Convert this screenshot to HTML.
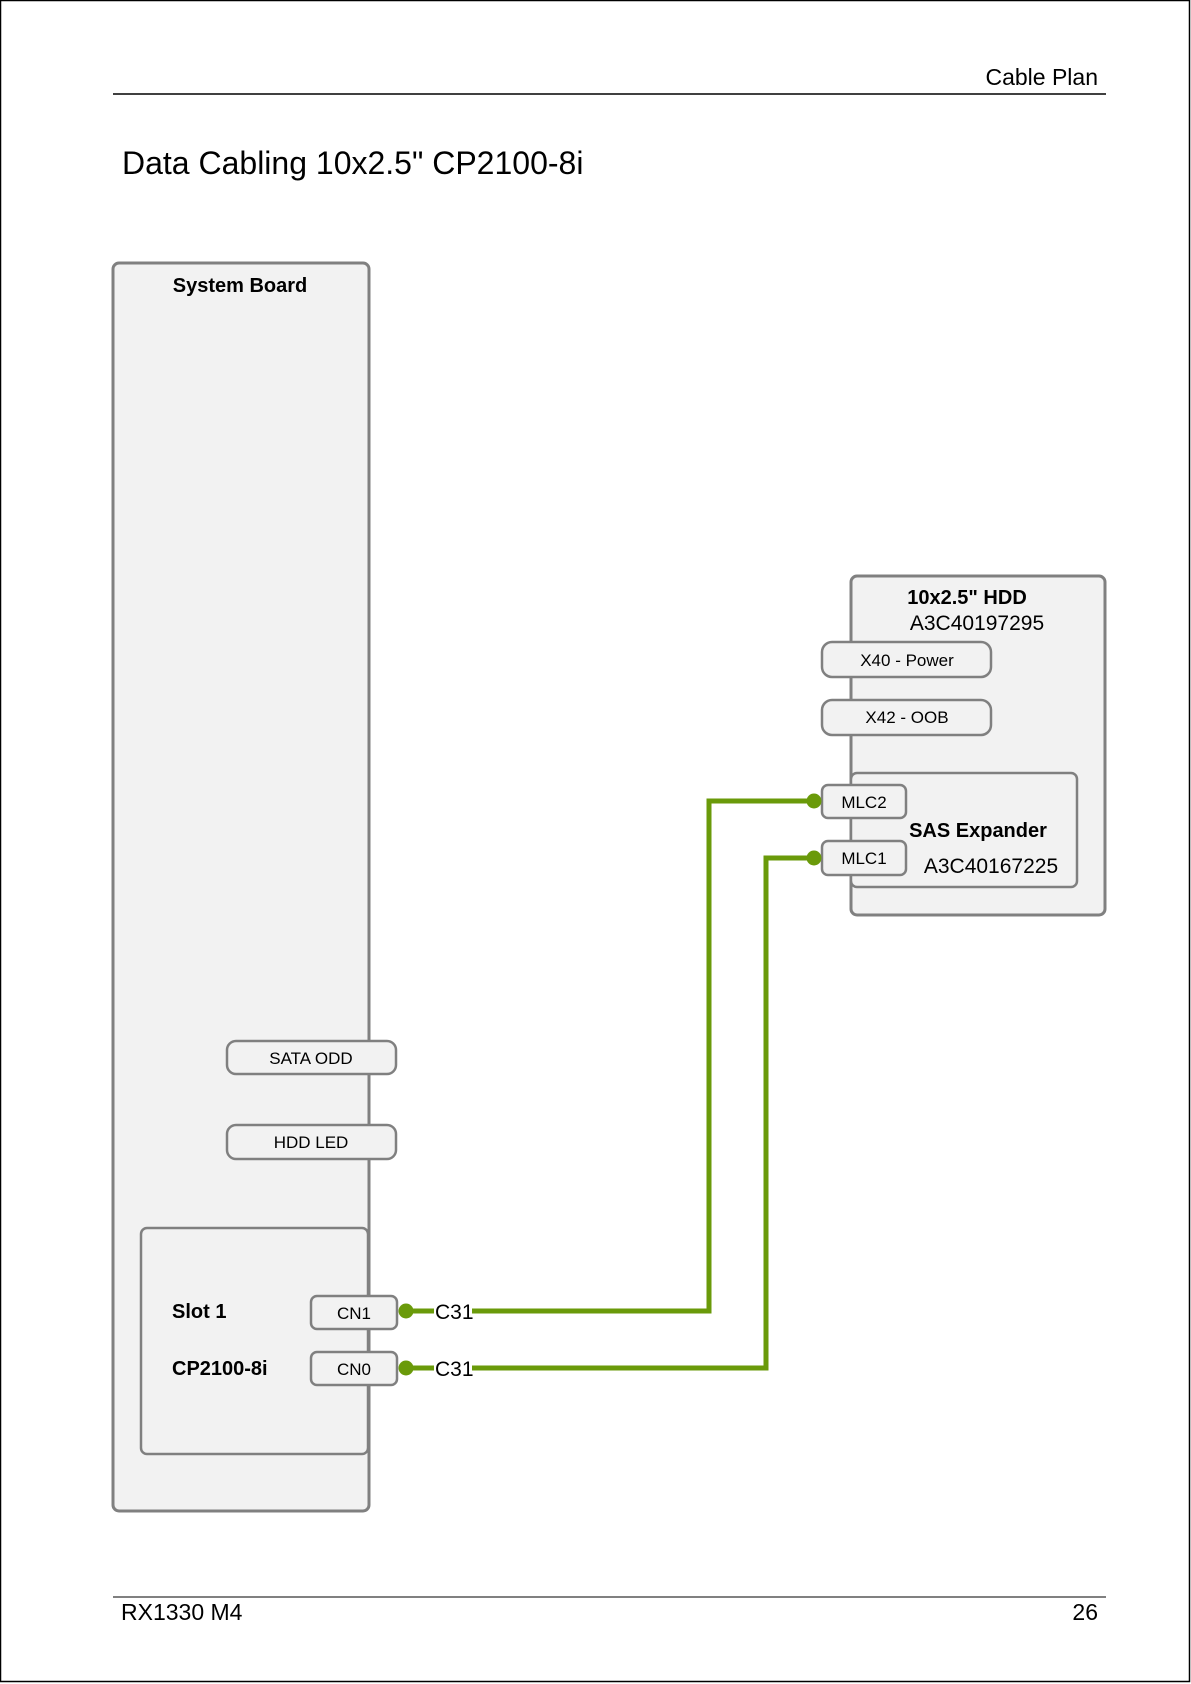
<!DOCTYPE html>
<html><head><meta charset="utf-8"><style>
html,body{margin:0;padding:0;background:#fff;}
svg{display:block;}
</style></head><body>
<svg width="1191" height="1684" viewBox="0 0 1191 1684" xmlns="http://www.w3.org/2000/svg">
<rect x="0.5" y="0.5" width="1189" height="1681" fill="#fff" stroke="#000" stroke-width="1.5"/>
<line x1="113" y1="94" x2="1106" y2="94" stroke="#000" stroke-width="1.5"/>
<text x="1098" y="85" text-anchor="end" font-family="Liberation Sans, sans-serif" font-size="23">Cable Plan</text>
<text x="122" y="174" font-family="Liberation Sans, sans-serif" font-size="32">Data Cabling 10x2.5" CP2100-8i</text>

<g stroke="#808080" stroke-width="3" fill="#f2f2f2">
<rect x="113" y="263" width="256" height="1248" rx="6"/>
<rect x="851" y="576" width="254" height="339" rx="6"/>
</g>
<g stroke="#808080" stroke-width="2.5" fill="#f2f2f2">
<rect x="141" y="1228" width="227" height="226" rx="6"/>
<rect x="851" y="773" width="226" height="114" rx="6"/>
<rect x="227" y="1041" width="169" height="33" rx="9"/>
<rect x="227" y="1125" width="169" height="34" rx="9"/>
<rect x="311" y="1296" width="86" height="33" rx="6"/>
<rect x="311" y="1352" width="86" height="33" rx="6"/>
<rect x="822" y="642" width="169" height="35" rx="10"/>
<rect x="822" y="700" width="169" height="35" rx="10"/>
<rect x="822" y="785" width="84" height="33" rx="6"/>
<rect x="822" y="841" width="84" height="34" rx="6"/>
</g>

<g fill="none" stroke="#6a9a0a" stroke-width="5">
<polyline points="406,1311 434,1311"/>
<polyline points="406,1368 434,1368"/>
<polyline points="472,1311 709,1311 709,801 814,801"/>
<polyline points="472,1368 766,1368 766,858 814,858"/>
</g>
<g fill="#6a9a0a">
<circle cx="406" cy="1311" r="7.5"/>
<circle cx="406" cy="1368" r="7.5"/>
<circle cx="814" cy="801" r="7.5"/>
<circle cx="814" cy="858" r="7.5"/>
</g>

<g font-family="Liberation Sans, DejaVu Sans, sans-serif" fill="#000">
<text x="240" y="292" text-anchor="middle" font-size="20" font-weight="bold">System Board</text>
<text x="311" y="1064" text-anchor="middle" font-size="17">SATA ODD</text>
<text x="311" y="1148" text-anchor="middle" font-size="17">HDD LED</text>
<text x="172" y="1318" font-size="20" font-weight="bold">Slot 1</text>
<text x="172" y="1375" font-size="20" font-weight="bold">CP2100-8i</text>
<text x="354" y="1319" text-anchor="middle" font-size="17">CN1</text>
<text x="354" y="1375" text-anchor="middle" font-size="17">CN0</text>
<text x="435" y="1319" font-size="21">C31</text>
<text x="435" y="1376" font-size="21">C31</text>
<text x="967" y="604" text-anchor="middle" font-size="20" font-weight="bold">10x2.5" HDD</text>
<text x="977" y="630" text-anchor="middle" font-size="21">A3C40197295</text>
<text x="907" y="666" text-anchor="middle" font-size="17">X40 - Power</text>
<text x="907" y="723" text-anchor="middle" font-size="17">X42 - OOB</text>
<text x="864" y="808" text-anchor="middle" font-size="17">MLC2</text>
<text x="864" y="864" text-anchor="middle" font-size="17">MLC1</text>
<text x="978" y="837" text-anchor="middle" font-size="20" font-weight="bold">SAS Expander</text>
<text x="991" y="873" text-anchor="middle" font-size="21">A3C40167225</text>
</g>

<line x1="113" y1="1597" x2="1106" y2="1597" stroke="#000" stroke-width="1"/>
<text x="121" y="1620" font-family="Liberation Sans, sans-serif" font-size="23">RX1330 M4</text>
<text x="1098" y="1620" text-anchor="end" font-family="Liberation Sans, sans-serif" font-size="23">26</text>
</svg>
</body></html>
